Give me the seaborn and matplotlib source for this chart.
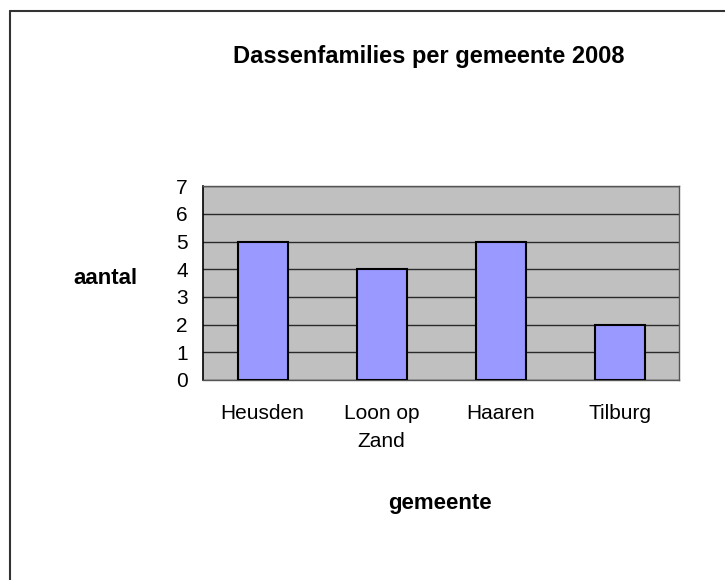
import matplotlib
matplotlib.use("Agg")
import matplotlib.pyplot as plt
import seaborn as sns
import pandas as pd
from matplotlib.ticker import FixedLocator

gemeenten = ["Heusden", "Loon op\nZand", "Haaren", "Tilburg"]
aantal = [5, 4, 5, 2]
y_ticks = [0, 1, 2, 3, 4, 5, 6, 7]

df = pd.DataFrame({"gemeente": gemeenten, "aantal": aantal})

sns.set_style("white")
plt.rcParams["font.family"] = ["Liberation Sans", "DejaVu Sans"]
plt.rcParams["text.color"] = "black"
plt.rcParams["xtick.color"] = "black"
plt.rcParams["ytick.color"] = "black"

fig = plt.figure(figsize=(7.25, 5.8), dpi=100)
ax = fig.add_axes([0.280, 0.345, 0.657, 0.334])

sns.barplot(data=df, x="gemeente", y="aantal", color="#9999FF", saturation=1,
            width=0.42, edgecolor="black", linewidth=1.5, ax=ax, zorder=3)

ax.set_facecolor("#C0C0C0")
ax.set_ylim(0, 7)
ax.set_xlim(-0.5, len(gemeenten) - 0.5)
ax.set_yticks(y_ticks)
ax.yaxis.grid(True, color="#2a2a2a", linewidth=1, zorder=1)
ax.set_axisbelow(True)

# x ticks sit between the categories
ax.xaxis.set_minor_locator(FixedLocator([i - 0.5 for i in range(len(gemeenten) + 1)]))
ax.tick_params(axis="x", which="major", length=0, pad=17, labelsize=15, labelcolor="black")
ax.tick_params(axis="x", which="minor", length=6, width=1, color="#333333", direction="out")
ax.tick_params(axis="y", length=6, width=1, color="#333333", direction="out", pad=5,
               labelsize=15, labelcolor="black")
for lbl in ax.get_xticklabels():
    lbl.set_verticalalignment("top")
    lbl.set_linespacing(1.6)

for side in ["top", "right", "bottom"]:
    ax.spines[side].set_color("#555555")
    ax.spines[side].set_linewidth(1)
ax.spines["left"].set_color("black")
ax.spines["left"].set_linewidth(1.2)

ax.set_xlabel("")
ax.set_ylabel("")
fig.text(105 / 725, 1 - 278 / 580, "aantal", ha="center", va="center",
         fontsize=16, fontweight="bold")
fig.text(440 / 725, 1 - 503 / 580, "gemeente", ha="center", va="center",
         fontsize=16, fontweight="bold")
fig.text(429 / 725, 1 - 57 / 580, "Dassenfamilies per gemeente 2008", ha="center",
         va="center", fontsize=17, fontweight="bold")

# outer chart border (left and top edges visible)
fig.add_artist(plt.Line2D([9.5 / 725, 9.5 / 725], [0, 1 - 11 / 580], color="#333333", linewidth=1.5))
fig.add_artist(plt.Line2D([9.5 / 725, 1], [1 - 11 / 580, 1 - 11 / 580], color="#333333", linewidth=1.5))

fig.savefig("out.png", dpi=100)
